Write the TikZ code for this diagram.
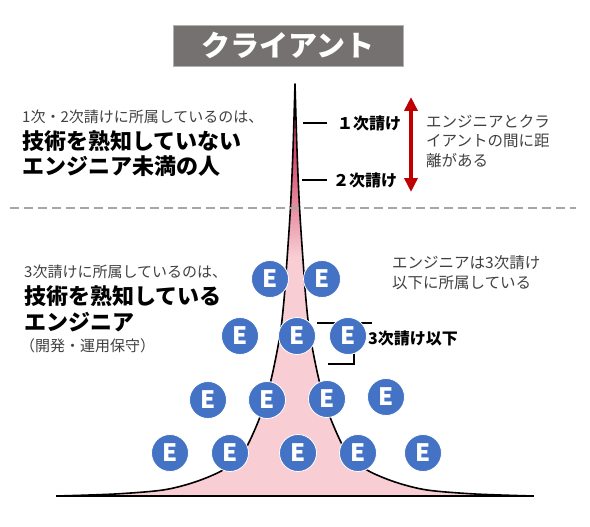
\documentclass[tikz,border=0pt]{standalone}
\usepackage{fontspec}
\setmainfont{Noto Sans CJK JP}
\usepackage{tikz}
\usetikzlibrary{arrows.meta}

\definecolor{titlegray}{RGB}{118,113,113}
\definecolor{eblue}{RGB}{68,114,196}
\definecolor{pinklight}{RGB}{248,205,212}
\definecolor{pinkdark}{RGB}{214,78,110}
\definecolor{arrowred}{RGB}{192,0,0}
\definecolor{textgray}{RGB}{64,64,64}
\definecolor{dashgray}{RGB}{166,166,166}

\pgfdeclareverticalshading{peakshade}{100bp}{color(0bp)=(pinklight); color(54bp)=(pinklight); color(66bp)=(pinkdark); color(100bp)=(pinkdark)}

\tikzset{
  eng/.style={circle, fill=eblue, draw=white, line width=0.8pt, minimum size=37pt,
    inner sep=0pt, text=white, font=\bfseries\fontsize{24}{24}\selectfont},
  note/.style={anchor=west, inner sep=0pt, text=textgray, font=\fontsize{15}{15}\selectfont},
  lead/.style={anchor=west, inner sep=0pt, font=\bfseries\fontsize{22}{22}\selectfont},
  tier/.style={anchor=west, inner sep=0pt, font=\bfseries\fontsize{16}{16}\selectfont},
  tick/.style={line width=2pt, black},
  gap/.style={{Triangle[width=13pt,length=14pt]}-{Triangle[width=13pt,length=14pt]},
    line width=3.5pt, draw=arrowred},
  sep/.style={line width=2.5pt, dashgray, dash pattern=on 9pt off 5pt}
}

\begin{document}
\begin{tikzpicture}[x=1pt, y=-1pt]
  \useasboundingbox (0,0) rectangle (590,527);

  % the peak
  \path[shading=peakshade, draw=black, line width=1.6pt, line join=round]
    plot[smooth, tension=0.5] coordinates {(57,496) (115,494) (163,490) (195,482) (223,470)
      (243,453) (260,417) (271,380) (280,335) (284,300) (287,260) (290.5,207) (293,150) (295,84)}
    -- plot[smooth, tension=0.5] coordinates {(295,84) (297,150) (299.5,207) (303,260) (306,300)
      (310,335) (319,380) (330,417) (347,453) (367,470) (395,482) (427,490) (475,494) (533,496)}
    -- cycle;
  \coordinate (baseL) at (56,496);
  \coordinate (baseR) at (534,496);
  \draw[line width=2pt] (baseL) -- (baseR);

  \node[rectangle, fill=titlegray, draw=gray!60, minimum width=230pt, minimum height=41pt,
    text=white, font=\bfseries\fontsize{29}{29}\selectfont] (client) at (288,45.5) {クライアント};

  \coordinate (sepL) at (10,208);
  \coordinate (sepR) at (576,208);
  \draw[sep] (sepL) -- (sepR);

  % 1st and 2nd tier
  \coordinate (t1a) at (303,123);
  \coordinate (t1b) at (327,123);
  \coordinate (t2a) at (302,180);
  \coordinate (t2b) at (327,180);
  \draw[tick] (t1a) -- (t1b);
  \draw[tick] (t2a) -- (t2b);
  \node[tier] (tier1) at (337,123) {１次請け};
  \node[tier] (tier2) at (333,180) {２次請け};

  \coordinate (gapTop) at (411,97);
  \coordinate (gapBot) at (411,192);
  \draw[gap] (gapTop) -- (gapBot);
  \node[note, align=left, font=\fontsize{15.5}{19.5}\selectfont] (gapText) at (426,141)
    {エンジニアとクラ\\イアントの間に距\\離がある};

  \node[note] (upper1) at (22,117) {1次・2次請けに所属しているのは、};
  \node[lead] (upper2) at (22,141) {技術を熟知していない};
  \node[lead] (upper3) at (22,166) {エンジニア未満の人};

  % 3rd tier and below
  \node[note] (lower1) at (24,272) {3次請けに所属しているのは、};
  \node[lead] (lower2) at (24,296) {技術を熟知している};
  \node[lead] (lower3) at (24,322) {エンジニア};
  \node[note] (lower4) at (20,346) {（開発・運用保守）};

  \node[note, align=left, font=\fontsize{15.5}{20}\selectfont] (belowText) at (392,273)
    {エンジニアは3次請け\\以下に所属している};

  \coordinate (brA) at (317,323);
  \coordinate (brB) at (372,323);
  \coordinate (brC) at (354,323);
  \coordinate (brD) at (354,364);
  \coordinate (brE) at (328,364);
  \draw[tick] (brA) -- (brB);
  \draw[tick] (brC) -- (brD) -- (brE);

  \node[eng] (E1)  at (270,279) {E};
  \node[eng] (E2)  at (322,279) {E};
  \node[eng] (E3)  at (240,336) {E};
  \node[eng] (E4)  at (297,336) {E};
  \node[eng] (E5)  at (348,336) {E};
  \node[eng] (E6)  at (208,400) {E};
  \node[eng] (E7)  at (267,400) {E};
  \node[eng] (E8)  at (327,399) {E};
  \node[eng] (E9)  at (386,397) {E};
  \node[eng] (E10) at (170,453) {E};
  \node[eng] (E11) at (230,453) {E};
  \node[eng] (E12) at (298,453) {E};
  \node[eng] (E13) at (358,453) {E};
  \node[eng] (E14) at (423,453) {E};

  \node[tier] (below) at (368,338) {3次請け以下};
\end{tikzpicture}
\end{document}
